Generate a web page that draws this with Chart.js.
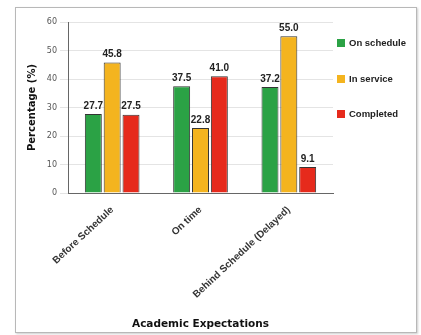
<!DOCTYPE html>
<html>
<head>
<meta charset="utf-8">
<script src="https://cdn.jsdelivr.net/npm/chart.js@4"></script>
<style>
  html, body { margin: 0; padding: 0; background: #fff; }
  #box {
    position: absolute; left: 15px; top: 7px;
    width: 400px; height: 324px;
    border: 1px solid #b8b8b8;
    box-shadow: 1px 1px 2px #ccc;
  }
  #legend {
    position: absolute; left: 321px; top: 29px;
    font: bold 9.5px 'Liberation Sans', sans-serif; color: #222;
  }
  #legend div { height: 35.5px; white-space: nowrap; }
  #legend span {
    display: inline-block; width: 8px; height: 8px;
    margin-right: 4px; vertical-align: -1px;
  }
</style>
</head>
<body>
<div id="box"><canvas id="chart" width="400" height="324"></canvas><div id="legend"></div></div>
<script>
const categories = ["Before Schedule", "On time", "Behind Schedule (Delayed)"];
const seriesNames = ["On schedule", "In service", "Completed"];
const greenValues = [27.7, 37.5, 37.2];
const orangeValues = [45.8, 22.8, 55.0];
const redValues = [27.5, 41.0, 9.1];
const yTicks = [0, 10, 20, 30, 40, 50, 60];

const colors = ["#2ba245", "#f4b41f", "#e62a1c"];

// legend on the right, built from the series names
const legendEl = document.getElementById("legend");
seriesNames.forEach((name, i) => {
  const row = document.createElement("div");
  const sw = document.createElement("span");
  sw.style.background = colors[i];
  row.appendChild(sw);
  row.appendChild(document.createTextNode(name));
  legendEl.appendChild(row);
});

const valueLabels = {
  id: "valueLabels",
  afterDatasetsDraw(chart) {
    const ctx = chart.ctx;
    ctx.save();
    ctx.font = "bold 10px 'Liberation Sans', sans-serif";
    ctx.fillStyle = "#222";
    ctx.textAlign = "center";
    ctx.textBaseline = "bottom";
    chart.data.datasets.forEach((ds, i) => {
      chart.getDatasetMeta(i).data.forEach((bar, j) => {
        ctx.fillText(ds.data[j].toFixed(1), bar.x, bar.y - 3);
      });
    });
    ctx.restore();
  }
};

const datasets = [greenValues, orangeValues, redValues].map((vals, i) => ({
  label: seriesNames[i],
  data: vals,
  backgroundColor: colors[i],
  borderColor: "#333",
  borderWidth: 1,
  categoryPercentage: 0.64,
  barPercentage: 0.9
}));

new Chart(document.getElementById("chart"), {
  type: "bar",
  data: { labels: categories, datasets: datasets },
  options: {
    responsive: false,
    animation: false,
    layout: { padding: { top: 14, left: 6, right: 83, bottom: 0 } },
    plugins: {
      tooltip: { enabled: false },
      legend: { display: false }
    },
    scales: {
      x: {
        afterFit: s => { s.height = 139; },
        grid: { display: false },
        border: { color: "#666" },
        ticks: {
          minRotation: 43,
          maxRotation: 43,
          color: "#333",
          font: { size: 10, weight: "bold", family: "'Liberation Sans', sans-serif" }
        },
        title: {
          display: true,
          text: "Academic Expectations",
          color: "#111",
          padding: { top: 2, bottom: 1 },
          font: { size: 10.5, weight: "bold", family: "'DejaVu Sans', sans-serif" }
        }
      },
      y: {
        min: yTicks[0],
        max: yTicks[yTicks.length - 1],
        afterFit: s => { s.width = 46; },
        afterBuildTicks: axis => { axis.ticks = yTicks.map(v => ({ value: v })); },
        grid: { color: "#e4e4e4" },
        border: { color: "#666" },
        ticks: {
          color: "#555",
          font: { size: 8, family: "'DejaVu Sans', sans-serif" }
        },
        title: {
          display: true,
          text: "Percentage (%)",
          color: "#111",
          font: { size: 10, weight: "bold", family: "'DejaVu Sans', sans-serif" }
        }
      }
    }
  },
  plugins: [valueLabels]
});
</script>
</body>
</html>
